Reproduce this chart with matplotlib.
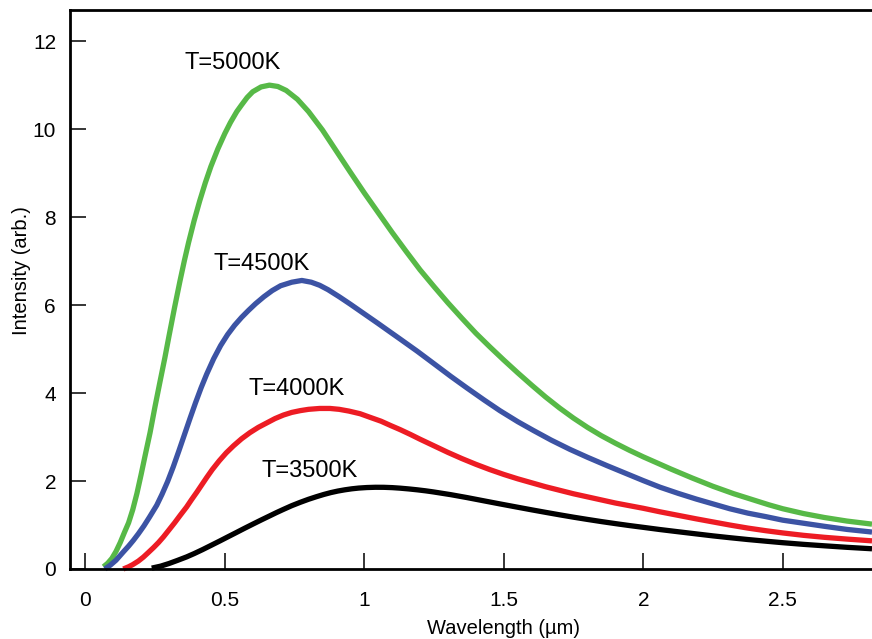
import matplotlib
matplotlib.use("Agg")
import matplotlib.pyplot as plt

plt.rcParams['font.family'] = ['Liberation Sans', 'DejaVu Sans']

# Series (wavelength in µm, intensity arb.)
green_x = [0.065, 0.08, 0.095, 0.11, 0.125, 0.14, 0.155, 0.17, 0.185, 0.2, 0.215, 0.232, 0.25, 0.268,
           0.285, 0.30, 0.32, 0.339, 0.355, 0.37, 0.39, 0.41, 0.43, 0.45, 0.475, 0.50, 0.52, 0.543,
           0.56, 0.58, 0.60, 0.63, 0.66, 0.69, 0.72, 0.76, 0.80, 0.85, 0.90, 0.95, 1.0, 1.05, 1.1,
           1.15, 1.2, 1.25, 1.3, 1.35, 1.4, 1.45, 1.5, 1.55, 1.6, 1.65, 1.7, 1.75, 1.8, 1.85, 1.9,
           1.95, 2.0, 2.05, 2.1, 2.175, 2.25, 2.325, 2.4, 2.45, 2.5, 2.575, 2.65, 2.73, 2.82]
green_y = [0.05, 0.13, 0.24, 0.4, 0.6, 0.83, 1.05, 1.35, 1.72, 2.15, 2.6, 3.1, 3.7, 4.27,
           4.8, 5.3, 5.95, 6.54, 7.01, 7.42, 7.92, 8.37, 8.78, 9.15, 9.55, 9.9, 10.15, 10.4,
           10.55, 10.72, 10.85, 10.96, 11.0, 10.97, 10.88, 10.68, 10.4, 9.98, 9.5, 9.02, 8.55, 8.1, 7.65,
           7.22, 6.8, 6.42, 6.05, 5.7, 5.36, 5.05, 4.75, 4.46, 4.18, 3.91, 3.66, 3.43, 3.22, 3.03, 2.86,
           2.7, 2.55, 2.41, 2.27, 2.07, 1.88, 1.71, 1.56, 1.46, 1.37, 1.26, 1.17, 1.09, 1.02]

blue_x = [0.07, 0.09, 0.11, 0.135, 0.155, 0.172, 0.19, 0.21, 0.23, 0.256, 0.275, 0.295, 0.315, 0.335,
          0.355, 0.375, 0.395, 0.415, 0.435, 0.46, 0.485, 0.51, 0.535, 0.56, 0.585, 0.61, 0.64, 0.67,
          0.70, 0.74, 0.776, 0.81, 0.84, 0.87, 0.91, 0.95, 1.0, 1.05, 1.09, 1.128, 1.19, 1.247, 1.31,
          1.367, 1.43, 1.486, 1.55, 1.606, 1.67, 1.737, 1.8, 1.87, 1.935, 2.0, 2.06, 2.125, 2.19, 2.25,
          2.31, 2.375, 2.44, 2.5, 2.575, 2.65, 2.73, 2.82]
blue_y = [0.0, 0.09, 0.2, 0.38, 0.52, 0.65, 0.8, 0.98, 1.18, 1.45, 1.7, 1.99, 2.32, 2.68,
          3.05, 3.42, 3.78, 4.12, 4.43, 4.78, 5.08, 5.33, 5.54, 5.72, 5.88, 6.03, 6.19, 6.33,
          6.44, 6.52, 6.56, 6.52, 6.45, 6.35, 6.19, 6.02, 5.80, 5.58, 5.40, 5.23, 4.95, 4.68, 4.38,
          4.12, 3.84, 3.6, 3.35, 3.15, 2.93, 2.72, 2.54, 2.35, 2.18, 2.01, 1.86, 1.72, 1.59, 1.48,
          1.37, 1.27, 1.19, 1.11, 1.04, 0.97, 0.9, 0.84]

red_x = [0.136, 0.155, 0.17, 0.19, 0.208, 0.225, 0.245, 0.262, 0.28, 0.30, 0.32, 0.34, 0.363, 0.38,
         0.40, 0.418, 0.435, 0.455, 0.48, 0.505, 0.531, 0.56, 0.59, 0.62, 0.65, 0.68, 0.71, 0.74,
         0.77, 0.80, 0.84, 0.877, 0.91, 0.945, 0.985, 1.02, 1.06, 1.095, 1.128, 1.165, 1.2, 1.25, 1.3,
         1.35, 1.4, 1.45, 1.5, 1.55, 1.6, 1.65, 1.7, 1.75, 1.8, 1.85, 1.9, 1.95, 2.0, 2.06, 2.125,
         2.19, 2.25, 2.31, 2.375, 2.44, 2.5, 2.575, 2.65, 2.73, 2.82]
red_y = [0.0, 0.05, 0.1, 0.18, 0.27, 0.37, 0.49, 0.6, 0.73, 0.89, 1.05, 1.22, 1.41, 1.57,
         1.75, 1.92, 2.08, 2.26, 2.46, 2.64, 2.8, 2.96, 3.1, 3.22, 3.32, 3.42, 3.5, 3.56,
         3.6, 3.63, 3.65, 3.65, 3.63, 3.59, 3.53, 3.45, 3.36, 3.26, 3.17, 3.06, 2.95, 2.8, 2.65,
         2.51, 2.38, 2.26, 2.15, 2.05, 1.96, 1.87, 1.79, 1.71, 1.64, 1.57, 1.5, 1.44, 1.38, 1.3, 1.22,
         1.14, 1.07, 1.0, 0.93, 0.87, 0.82, 0.765, 0.72, 0.68, 0.64]

black_x = [0.238, 0.27, 0.30, 0.33, 0.363, 0.39, 0.42, 0.45, 0.483, 0.51, 0.54, 0.57, 0.602, 0.63,
           0.66, 0.685, 0.71, 0.74, 0.77, 0.80, 0.829, 0.855, 0.88, 0.905, 0.93, 0.955, 0.98, 1.009,
           1.04, 1.07, 1.1, 1.128, 1.16, 1.19, 1.22, 1.247, 1.31, 1.367, 1.43, 1.486, 1.545, 1.6, 1.65,
           1.7, 1.75, 1.8, 1.85, 1.9, 1.95, 2.0, 2.06, 2.125, 2.19, 2.25, 2.31, 2.375, 2.44, 2.5,
           2.575, 2.65, 2.73, 2.82]
black_y = [0.02, 0.065, 0.125, 0.195, 0.275, 0.35, 0.44, 0.535, 0.64, 0.728, 0.825, 0.923, 1.025, 1.113,
           1.205, 1.282, 1.355, 1.44, 1.515, 1.585, 1.645, 1.695, 1.737, 1.772, 1.80, 1.823, 1.84, 1.852,
           1.858, 1.857, 1.85, 1.838, 1.82, 1.80, 1.777, 1.753, 1.69, 1.625, 1.548, 1.48, 1.41, 1.345, 1.288,
           1.232, 1.178, 1.127, 1.078, 1.032, 0.988, 0.947, 0.897, 0.847, 0.798, 0.753, 0.712, 0.67, 0.632,
           0.598, 0.56, 0.527, 0.493, 0.46]

labels = ["T=5000K", "T=4500K", "T=4000K", "T=3500K"]
label_x = [0.529, 0.633, 0.759, 0.805]
label_y = [11.36, 6.79, 3.95, 2.09]

x_ticks = [0, 0.5, 1, 1.5, 2, 2.5]
x_ticklabels = ["0", "0.5", "1", "1.5", "2", "2.5"]
y_ticks = [0, 2, 4, 6, 8, 10, 12]
y_ticklabels = ["0", "2", "4", "6", "8", "10", "12"]

colors = ["#57B947", "#3C53A4", "#ED1C24", "#000000"]

fig = plt.figure(figsize=(8.72, 6.39), dpi=100)
ax = fig.add_axes([70 / 872, 70 / 639, 1 - 70 / 872, (569 - 9.5) / 639])

series = [(green_x, green_y), (blue_x, blue_y), (red_x, red_y), (black_x, black_y)]
for (xs, ys), c in zip(series, colors):
    ax.plot(xs, ys, color=c, lw=3.8, solid_capstyle='butt', solid_joinstyle='round', clip_on=False)

for t, x, y in zip(labels, label_x, label_y):
    ax.text(x, y, t, ha='center', va='baseline', fontsize=17)

ax.set_xlim(-0.055, 2.82)
ax.set_ylim(0, 12.72)
ax.set_xticks(x_ticks)
ax.set_xticklabels(x_ticklabels)
ax.set_yticks(y_ticks)
ax.set_yticklabels(y_ticklabels)

ax.spines['right'].set_visible(False)
for s in ['left', 'bottom', 'top']:
    ax.spines[s].set_linewidth(2.0)

ax.tick_params(axis='both', direction='in', length=11.5, width=1.1, labelsize=15)
ax.tick_params(axis='x', pad=15.5)
ax.tick_params(axis='y', pad=10)

ax.set_xlabel("Wavelength (µm)", fontsize=14.5, labelpad=6.5, x=0.541)
ax.set_ylabel("Intensity (arb.)", fontsize=14.5, labelpad=1, y=0.533)

fig.savefig("out.png", dpi=100)
